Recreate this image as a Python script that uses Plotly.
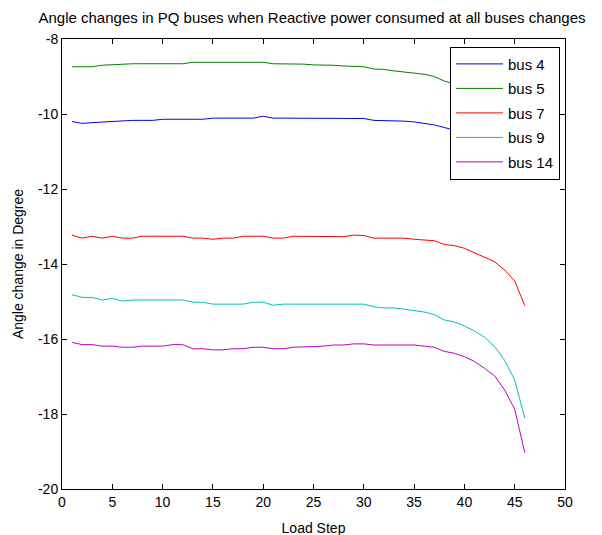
import plotly.graph_objects as go

load_step = list(range(1, 47))

bus4 = [-10.20, -10.25, -10.23, -10.21, -10.21, -10.17, -10.17, -10.17, -10.17, -10.14,
        -10.14, -10.14, -10.14, -10.14, -10.11, -10.11, -10.11, -10.11, -10.11, -10.06,
        -10.11, -10.11, -10.11, -10.11, -10.11, -10.11, -10.11, -10.11, -10.11, -10.12,
        -10.17, -10.17, -10.17, -10.19, -10.21, -10.24, -10.29, -10.36, -10.42, -10.50,
        -10.58, -10.67, -10.78, -10.93, -11.10, -11.40]
bus5 = [-8.74, -8.74, -8.74, -8.70, -8.68, -8.66, -8.66, -8.66, -8.66, -8.66,
        -8.66, -8.66, -8.62, -8.62, -8.62, -8.62, -8.62, -8.62, -8.62, -8.62,
        -8.66, -8.66, -8.66, -8.67, -8.69, -8.69, -8.70, -8.72, -8.74, -8.74,
        -8.80, -8.81, -8.85, -8.88, -8.91, -8.94, -9.00, -9.12, -9.20, -9.30,
        -9.40, -9.50, -9.65, -9.85, -10.10, -10.60]
bus7 = [-13.23, -13.31, -13.26, -13.31, -13.26, -13.31, -13.31, -13.26, -13.26, -13.26,
        -13.26, -13.26, -13.31, -13.31, -13.34, -13.31, -13.31, -13.26, -13.26, -13.26,
        -13.31, -13.31, -13.26, -13.26, -13.26, -13.27, -13.27, -13.27, -13.23, -13.24,
        -13.31, -13.31, -13.31, -13.31, -13.34, -13.36, -13.38, -13.48, -13.51, -13.58,
        -13.70, -13.80, -13.94, -14.16, -14.45, -15.11]
bus9 = [-14.82, -14.89, -14.89, -14.96, -14.92, -14.99, -14.96, -14.96, -14.96, -14.96,
        -14.96, -14.96, -15.02, -15.02, -15.07, -15.07, -15.07, -15.07, -15.02, -15.02,
        -15.10, -15.07, -15.07, -15.07, -15.07, -15.07, -15.07, -15.07, -15.07, -15.07,
        -15.14, -15.17, -15.17, -15.21, -15.24, -15.28, -15.35, -15.49, -15.55, -15.65,
        -15.79, -15.95, -16.20, -16.57, -17.09, -18.11]
bus14 = [-16.09, -16.15, -16.15, -16.19, -16.19, -16.22, -16.22, -16.19, -16.19, -16.19,
         -16.15, -16.15, -16.26, -16.26, -16.29, -16.29, -16.26, -16.26, -16.22, -16.22,
         -16.26, -16.26, -16.22, -16.22, -16.20, -16.19, -16.16, -16.16, -16.13, -16.13,
         -16.16, -16.16, -16.16, -16.16, -16.16, -16.19, -16.22, -16.33, -16.38, -16.47,
         -16.60, -16.78, -16.98, -17.36, -17.87, -19.03]

series = [("bus 4", bus4, "#0000ff"), ("bus 5", bus5, "#008000"),
          ("bus 7", bus7, "#ff0000"), ("bus 9", bus9, "#00bfbf"),
          ("bus 14", bus14, "#bf00bf")]

x_ticks = list(range(0, 51, 5))
y_ticks = list(range(-20, -7, 2))
y_tick_labels = [str(v) for v in y_ticks]

fig = go.Figure()
for i, (name, vals, col) in enumerate(series):
    fig.add_trace(go.Scatter(x=load_step, y=vals, mode="lines", name=name,
                             legendgroup=f"g{i}",
                             line=dict(color=col, width=1)))

font_family = "Liberation Sans, Arial, sans-serif"
W, H = 602, 535
L, R, T, B = 54, 45, 31, 54
fig.update_layout(
    width=W, height=H,
    margin=dict(l=L, r=R, t=T, b=B),
    paper_bgcolor="white", plot_bgcolor="white",
    font=dict(family=font_family, size=14, color="black"),
    title=dict(text="Angle changes in PQ buses when Reactive power consumed at all buses changes",
               x=304 / W, xanchor="center", y=1 - 10 / H, yanchor="middle",
               font=dict(size=15, family=font_family, color="black")),
    showlegend=True,
    legend=dict(x=0.99, y=0.983, xanchor="right", yanchor="top",
                bgcolor="white", bordercolor="black", borderwidth=1,
                font=dict(size=15, family=font_family, color="black"),
                itemwidth=47, tracegroupgap=2),
    xaxis=dict(range=[0, 50], tickvals=x_ticks, ticks="inside", ticklen=5,
               tickcolor="black", showgrid=False, zeroline=False,
               showline=True, linecolor="black", linewidth=1, mirror="ticks",
               automargin=False,
               title=dict(text="Load Step", standoff=14, font=dict(size=14)),
               tickfont=dict(size=14)),
    yaxis=dict(range=[-20, -8], tickvals=y_ticks, ticktext=y_tick_labels,
               ticks="inside", ticklen=5,
               tickcolor="black", showgrid=False, zeroline=False,
               showline=True, linecolor="black", linewidth=1, mirror="ticks",
               automargin=False,
               title=dict(text="Angle change in Degree", standoff=11, font=dict(size=14)),
               tickfont=dict(size=14)),
)

fig.write_html("out.html")
